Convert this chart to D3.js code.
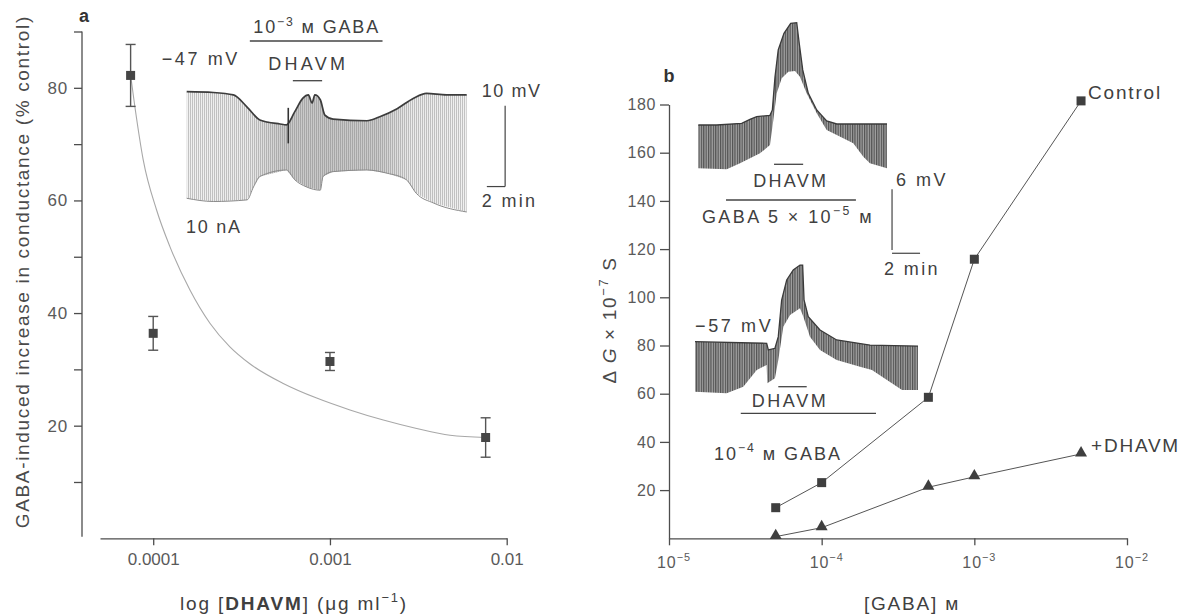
<!DOCTYPE html>
<html><head><meta charset="utf-8">
<script src="https://cdn.jsdelivr.net/npm/d3@7"></script>
<style>
body{margin:0;background:#fff}
svg{display:block}
text{font-family:"Liberation Sans",Arial,Helvetica,sans-serif}
</style>
</head><body>
<svg id="c" width="1184" height="614"></svg>
<script>
// ---------------- DATA ----------------
// Panel a: dose-response
const aDose = [7.45e-5, 1e-4, 1e-3, 7.6e-3];
const aResp = [82.2, 36.4, 31.4, 17.9];
const aErr  = [5.5, 3.0, 1.6, 3.5];
const aCurveDose = [7.45e-5, 7.88e-5, 8.78e-5, 1.045e-4, 1.243e-4, 1.614e-4, 2.094e-4, 2.716e-4, 3.52e-4, 5.44e-4, 8.41e-4, 1.298e-3, 2.004e-3, 3.095e-3, 4.78e-3, 7.6e-3];
const aCurveResp = [82.2, 76.6, 67.2, 58.3, 51.8, 44.1, 38.2, 34.0, 31.0, 27.5, 24.9, 22.8, 21.0, 19.5, 18.3, 17.9];
const aYTicks = [10, 20, 30, 40, 50, 60, 70, 80, 90];
const aYLabels = [20, 40, 60, 80];
const aXTicks = [1e-4, 1e-3, 1e-2];
const aXLabels = ["0.0001", "0.001", "0.01"];

// Panel b: conductance vs GABA
const gabaConc = [5e-5, 1e-4, 5e-4, 1e-3, 5e-3];
const controlG = [12.7, 23.1, 58.5, 115.8, 181.5];
const dhavmG   = [0.7, 4.4, 21.2, 25.5, 35.0];
const bYTicks = [20, 40, 60, 80, 100, 120, 140, 160, 180];
const bXTicks = [1e-5, 1e-4, 1e-3, 1e-2];
const bXExp = ["−5", "−4", "−3", "−2"];

// Inset a trace (time in min, potential in mV)
const insA_topT = [0, 2.9, 5.1, 6.6, 8.0, 10.2, 10.9, 11.8, 12.7, 13.3, 13.7, 14.0, 14.6, 15.1, 16.0, 19.7, 21.1, 23.0, 24.8, 26.2, 28.4, 30.6];
const insA_topV = [-47, -47.1, -47.4, -48.9, -50.5, -51.0, -51.1, -49.5, -47.8, -47.4, -48.4, -47.4, -48.0, -49.9, -50.4, -50.6, -50.1, -49.1, -47.8, -47.2, -47.4, -47.4];
const insA_botT = [0, 2.9, 6.6, 7.3, 8.0, 10.9, 11.8, 13.1, 14.6, 14.9, 16.0, 19.7, 21.9, 24.0, 25.1, 27.0, 30.6];
const insA_botV = [-60.2, -60.6, -60.4, -58.8, -57.5, -56.7, -57.9, -58.8, -59.2, -57.5, -56.9, -56.7, -57.1, -57.9, -59.6, -60.8, -61.9];
const insA_gaba = [6.9, 21.4];
const insA_dhavm = [11.6, 14.8];

// Inset b upper trace (time in min, relative mV)
const insB1_topT = [0, 1.31, 3.1, 3.69, 4.17, 5.12, 5.29, 5.48, 5.71, 6.12, 6.6, 7.03, 7.21, 7.46, 7.86, 8.46, 9.17, 9.89, 13.48];
const insB1_topV = [0, 0, 0.17, 0.56, 0.82, 0.96, 1.49, 4.78, 7.43, 9.08, 10.07, 10.13, 8.09, 5.45, 3.14, 1.49, 0.4, 0.1, 0.1];
const insB1_botT = [0, 2.03, 2.98, 4.41, 5.12, 5.36, 5.6, 5.96, 6.43, 6.91, 7.26, 7.74, 8.46, 9.17, 9.89, 11.07, 11.79, 12.26, 13.48];
const insB1_botV = [-4.29, -4.39, -3.79, -2.8, -1.98, 0.5, 3.14, 4.62, 5.28, 5.35, 4.78, 3.14, 1.16, -0.5, -0.99, -1.81, -3.14, -3.79, -4.29];
const insB1_dhavm = [5.41, 7.49];
const insB1_gaba = [1.98, 11.26];

// Inset b lower trace (time in min, mV)
const insB2_topT = [0, 5.12, 5.24, 5.71, 5.95, 6.19, 6.55, 7.02, 7.5, 7.69, 7.79, 8.09, 8.93, 10.12, 12.5, 15.93];
const insB2_topV = [-57, -57.16, -57.82, -57.65, -56.5, -52.87, -50.89, -49.9, -49.41, -49.41, -52.87, -54.52, -55.84, -56.83, -57.33, -57.43];
const insB2_botT = [0, 2.26, 3.45, 4.41, 5.12, 5.16, 5.71, 5.95, 6.31, 6.79, 7.5, 7.74, 8.21, 8.93, 10.12, 11.79, 12.64, 14.79, 15.93];
const insB2_botV = [-61.95, -62.11, -61.46, -59.8, -59.31, -61.12, -60.62, -58.81, -55.51, -54.36, -53.69, -54.52, -56.5, -57.82, -58.81, -59.48, -59.8, -61.78, -61.78];
const insB2_dhavm = [5.95, 7.98];
const insB2_gaba = [3.27, 12.93];

// ---------------- DRAW ----------------
const svg = d3.select("#c");
const TXT = "#404040";

function addText(g, parts, x, y, o = {}) {
  const size = o.size || 18;
  const t = g.append("text").attr("x", x).attr("y", y).attr("font-size", size)
    .attr("fill", o.fill || TXT).attr("text-anchor", o.anchor || "start");
  if (o.rotate) t.attr("transform", `rotate(-90,${x},${y})`);
  if (o.weight) t.attr("font-weight", o.weight);
  let shift = 0, n = 0;
  const arr = typeof parts === "string" ? [{ s: parts }] : parts;
  for (const p of arr) {
    const sp = t.append("tspan").text(p.s);
    n += p.s.length;
    if (p.b) sp.attr("font-weight", "bold");
    if (p.i) sp.attr("font-style", "italic");
    if (p.sup) { const d = -size * 0.42; sp.attr("font-size", size * 0.68).attr("dy", d - shift); shift = d; }
    else if (shift !== 0) { sp.attr("dy", -shift); shift = 0; }
  }
  if (o.width) {
    const L = t.node().getComputedTextLength();
    t.attr("letter-spacing", ((o.width - L) / n).toFixed(2));
  }
  return t;
}

const defs = svg.append("defs");
const pA = defs.append("pattern").attr("id", "hatchA").attr("width", 2).attr("height", 4).attr("patternUnits", "userSpaceOnUse");
pA.append("rect").attr("width", 2).attr("height", 4).attr("fill", "#f1f1f1");
pA.append("line").attr("x1", 0.5).attr("x2", 0.5).attr("y1", 0).attr("y2", 4).attr("stroke", "#bcbcbc").attr("stroke-width", 0.9);
const pB = defs.append("pattern").attr("id", "hatchB").attr("width", 2.4).attr("height", 4).attr("patternUnits", "userSpaceOnUse");
pB.append("rect").attr("width", 2.4).attr("height", 4).attr("fill", "#a3a3a3");
pB.append("line").attr("x1", 0.6).attr("x2", 0.6).attr("y1", 0).attr("y2", 4).attr("stroke", "#4a4a4a").attr("stroke-width", 1.1);
const gr = defs.append("linearGradient").attr("id", "gradA").attr("x1", 0).attr("x2", 1).attr("y1", 0).attr("y2", 0);
[[0, 0], [0.22, 0.05], [0.35, 0.28], [0.5, 0.3], [0.68, 0.28], [0.8, 0.05], [1, 0]].forEach(([o, a]) =>
  gr.append("stop").attr("offset", o).attr("stop-color", "#666").attr("stop-opacity", a));

function styleAxis(g, size) {
  g.select(".domain").attr("stroke", "#4d4d4d").attr("stroke-width", 1.3);
  g.selectAll(".tick line").attr("stroke", "#4d4d4d").attr("stroke-width", 1.3);
  g.selectAll(".tick text").attr("fill", "#5a5a5a").attr("font-size", size)
    .attr("font-family", '"Liberation Sans",Arial,sans-serif');
}

// ===== Panel a =====
const ya = d3.scaleLinear().domain([0, 90]).range([538.3, 31.5]);
const xa = d3.scaleLog().domain([5e-5, 1e-2]).range([100, 506.7]);
const gA = svg.append("g");

const yAxA = gA.append("g").attr("transform", "translate(82,0)")
  .call(d3.axisLeft(ya).tickValues(aYTicks).tickSize(8).tickSizeOuter(0).tickPadding(6)
    .tickFormat(d => aYLabels.includes(d) ? d : ""));
yAxA.select(".domain").attr("d", `M0,${ya(0) - 1.5}V${ya(90)}`);
styleAxis(yAxA, 17);
yAxA.selectAll(".tick text").attr("letter-spacing", 0.8);

const xAxA = gA.append("g").attr("transform", `translate(0,${ya(0)})`)
  .call(d3.axisBottom(xa).tickValues(aXTicks).tickSize(7).tickSizeOuter(0).tickPadding(8)
    .tickFormat((d, i) => aXLabels[i]));
styleAxis(xAxA, 17);

// fitted curve
gA.append("path").datum(aCurveDose.map((d, i) => [d, aCurveResp[i]]))
  .attr("fill", "none").attr("stroke", "#a8a8a8").attr("stroke-width", 1.1)
  .attr("d", d3.line().x(d => xa(d[0])).y(d => ya(d[1])).curve(d3.curveMonotoneX));

// error bars + points
aDose.forEach((d, i) => {
  const x = xa(d), y1 = ya(aResp[i] + aErr[i]), y2 = ya(aResp[i] - aErr[i]);
  gA.append("line").attr("x1", x).attr("x2", x).attr("y1", y1).attr("y2", y2).attr("stroke", "#555").attr("stroke-width", 1.4);
  [y1, y2].forEach(yy => gA.append("line").attr("x1", x - 5).attr("x2", x + 5).attr("y1", yy).attr("y2", yy).attr("stroke", "#555").attr("stroke-width", 1.4));
  gA.append("rect").attr("x", x - 4.5).attr("y", ya(aResp[i]) - 4.5).attr("width", 9).attr("height", 9).attr("fill", "#454545");
});

addText(gA, "GABA-induced increase in conductance (% control)", 29, 271.7, { rotate: true, anchor: "middle", size: 19, width: 513, fill: "#4a4a4a" });
addText(gA, [{ s: "log [" }, { s: "DHAVM", b: true }, { s: "] (μg ml" }, { s: "−1", sup: true }, { s: ")" }], 294, 610, { anchor: "middle", size: 19, width: 228, fill: "#404040" });
addText(gA, "a", 84, 22, { anchor: "middle", size: 18, weight: "bold", fill: "#333" });

// Inset a
const xIA = d3.scaleLinear().domain([0, 30.6]).range([186.7, 466.7]);
const yIA = d3.scaleLinear().domain([-47, -62]).range([91.7, 212.8]);
const polyA = insA_topT.map((t, i) => [xIA(t), yIA(insA_topV[i])])
  .concat(insA_botT.map((t, i) => [xIA(t), yIA(insA_botV[i])]).reverse());
gA.append("path").attr("d", d3.line()(polyA) + "Z").attr("fill", "url(#hatchA)");
gA.append("path").attr("d", d3.line()(polyA) + "Z").attr("fill", "url(#gradA)");
gA.append("path").attr("fill", "none").attr("stroke", "#3c3c3c").attr("stroke-width", 1.7)
  .attr("d", d3.line().curve(d3.curveMonotoneX)(insA_topT.map((t, i) => [xIA(t), yIA(insA_topV[i])])));
gA.append("path").attr("fill", "none").attr("stroke", "#8a8a8a").attr("stroke-width", 1)
  .attr("d", d3.line().curve(d3.curveMonotoneX)(insA_botT.map((t, i) => [xIA(t), yIA(insA_botV[i])])));
// artifact spike
gA.append("line").attr("x1", xIA(11.1)).attr("x2", xIA(11.1)).attr("y1", yIA(-49.0)).attr("y2", yIA(-53.4)).attr("stroke", "#333").attr("stroke-width", 1.6);
// application bars
gA.append("line").attr("x1", xIA(insA_gaba[0])).attr("x2", xIA(insA_gaba[1])).attr("y1", 41).attr("y2", 41).attr("stroke", "#444").attr("stroke-width", 1.3);
gA.append("line").attr("x1", xIA(insA_dhavm[0])).attr("x2", xIA(insA_dhavm[1])).attr("y1", 80.7).attr("y2", 80.7).attr("stroke", "#444").attr("stroke-width", 1.3);
// scale bars (10 mV, 2 min)
gA.append("line").attr("x1", xIA(34.8)).attr("x2", xIA(34.8)).attr("y1", yIA(-48.75)).attr("y2", yIA(-58.75)).attr("stroke", "#444").attr("stroke-width", 1.2);
gA.append("line").attr("x1", xIA(32.8)).attr("x2", xIA(34.8)).attr("y1", yIA(-58.75)).attr("y2", yIA(-58.75)).attr("stroke", "#444").attr("stroke-width", 1.2);
addText(gA, [{ s: "10" }, { s: "−3", sup: true }, { s: " м GABA" }], 316.7, 33.3, { anchor: "middle", size: 18, width: 126.7 });
addText(gA, "DHAVM", 308.3, 70, { anchor: "middle", size: 18, width: 80 });
addText(gA, "−47 mV", 161.7, 65, { size: 18, width: 78.3 });
addText(gA, "10 mV", 481.7, 97, { size: 18, width: 60 });
addText(gA, "2 min", 481.7, 206.7, { size: 18, width: 55.7 });
addText(gA, "10 nA", 186, 233.3, { size: 18, width: 55.7 });

// ===== Panel b =====
const yb = d3.scaleLinear().domain([0, 180]).range([538.3, 104.5]);
const xb = d3.scaleLog().domain([1e-5, 1e-2]).range([669, 1127]);
const gB = svg.append("g");

const yAxB = gB.append("g").attr("transform", "translate(669,0)")
  .call(d3.axisLeft(yb).tickValues(bYTicks).tickSize(9).tickSizeOuter(0).tickPadding(4));
styleAxis(yAxB, 16);
yAxB.selectAll(".tick text").attr("letter-spacing", 0.6);

const xAxB = gB.append("g").attr("transform", `translate(0,${yb(0)})`)
  .call(d3.axisBottom(xb).tickValues(bXTicks).tickSize(7).tickSizeOuter(0).tickFormat(""));
styleAxis(xAxB, 16);
bXTicks.forEach((v, i) => addText(gB, [{ s: "10" }, { s: bXExp[i], sup: true }], xb(v) - 12, 568, { size: 16, width: 34, fill: "#5a5a5a" }));

const lineB = d3.line().x(d => xb(d[0])).y(d => yb(d[1]));
gB.append("path").datum(gabaConc.map((c, i) => [c, controlG[i]])).attr("fill", "none").attr("stroke", "#555").attr("stroke-width", 1).attr("d", lineB);
gB.append("path").datum(gabaConc.map((c, i) => [c, dhavmG[i]])).attr("fill", "none").attr("stroke", "#555").attr("stroke-width", 1).attr("d", lineB);
gabaConc.forEach((c, i) => {
  gB.append("rect").attr("x", xb(c) - 4.5).attr("y", yb(controlG[i]) - 4.5).attr("width", 9).attr("height", 9).attr("fill", "#3f3f3f");
  gB.append("path").attr("d", d3.symbol(d3.symbolTriangle, 62)()).attr("transform", `translate(${xb(c)},${yb(dhavmG[i]) - 1})`).attr("fill", "#3f3f3f");
});
addText(gB, "Control", 1088, 99, { size: 19, width: 74 });
addText(gB, "+DHAVM", 1091, 452, { size: 19, width: 89 });

addText(gB, [{ s: "Δ " }, { s: "G", i: true }, { s: " × 10" }, { s: "−7", sup: true }, { s: " S" }], 616, 320, { rotate: true, anchor: "middle", size: 19, width: 127, fill: "#4a4a4a" });
addText(gB, "[GABA] м", 912, 610, { anchor: "middle", size: 19, width: 96 });
addText(gB, "b", 669, 82, { anchor: "middle", size: 18, weight: "bold", fill: "#333" });

// Inset b upper
const xIB1 = d3.scaleLinear().domain([0, 13.48]).range([698.3, 887]);
const yIB1 = d3.scaleLinear().domain([0, -10]).range([125, 226]);
const polyB1 = insB1_topT.map((t, i) => [xIB1(t), yIB1(insB1_topV[i])])
  .concat(insB1_botT.map((t, i) => [xIB1(t), yIB1(insB1_botV[i])]).reverse());
gB.append("path").attr("d", d3.line()(polyB1) + "Z").attr("fill", "url(#hatchB)");
gB.append("path").attr("fill", "none").attr("stroke", "#3a3a3a").attr("stroke-width", 1.3)
  .attr("d", d3.line()(insB1_topT.map((t, i) => [xIB1(t), yIB1(insB1_topV[i])])));
gB.append("line").attr("x1", xIB1(insB1_dhavm[0])).attr("x2", xIB1(insB1_dhavm[1])).attr("y1", 164.3).attr("y2", 164.3).attr("stroke", "#444").attr("stroke-width", 1.3);
gB.append("line").attr("x1", xIB1(insB1_gaba[0])).attr("x2", xIB1(insB1_gaba[1])).attr("y1", 200).attr("y2", 200).attr("stroke", "#444").attr("stroke-width", 1.3);
// scale bars 6 mV / 2 min
gB.append("line").attr("x1", xIB1(13.84)).attr("x2", xIB1(13.84)).attr("y1", yIB1(-6.37)).attr("y2", yIB1(-12.38)).attr("stroke", "#444").attr("stroke-width", 1.2);
gB.append("line").attr("x1", xIB1(13.84)).attr("x2", xIB1(15.84)).attr("y1", yIB1(-12.7)).attr("y2", yIB1(-12.7)).attr("stroke", "#444").attr("stroke-width", 1.2);
addText(gB, "DHAVM", 790.8, 186.7, { anchor: "middle", size: 18, width: 75 });
addText(gB, [{ s: "GABA 5 × 10" }, { s: "−5", sup: true }, { s: " м" }], 788, 223, { anchor: "middle", size: 18, width: 172 });
addText(gB, "6 mV", 896, 186, { size: 18, width: 52 });
addText(gB, "2 min", 884, 275, { size: 18, width: 56 });

// Inset b lower
const xIB2 = d3.scaleLinear().domain([0, 15.93]).range([695, 918]);
const yIB2 = d3.scaleLinear().domain([-57, -67]).range([341.7, 442.7]);
const polyB2 = insB2_topT.map((t, i) => [xIB2(t), yIB2(insB2_topV[i])])
  .concat(insB2_botT.map((t, i) => [xIB2(t), yIB2(insB2_botV[i])]).reverse());
gB.append("path").attr("d", d3.line()(polyB2) + "Z").attr("fill", "url(#hatchB)");
gB.append("path").attr("fill", "none").attr("stroke", "#3a3a3a").attr("stroke-width", 1.3)
  .attr("d", d3.line()(insB2_topT.map((t, i) => [xIB2(t), yIB2(insB2_topV[i])])));
gB.append("line").attr("x1", xIB2(insB2_dhavm[0])).attr("x2", xIB2(insB2_dhavm[1])).attr("y1", 386.7).attr("y2", 386.7).attr("stroke", "#444").attr("stroke-width", 1.3);
gB.append("line").attr("x1", xIB2(insB2_gaba[0])).attr("x2", xIB2(insB2_gaba[1])).attr("y1", 413.3).attr("y2", 413.3).attr("stroke", "#444").attr("stroke-width", 1.3);
addText(gB, "−57 mV", 695, 331.7, { size: 18, width: 78.3 });
addText(gB, "DHAVM", 790, 406.7, { anchor: "middle", size: 18, width: 76.6 });
addText(gB, [{ s: "10" }, { s: "−4", sup: true }, { s: " м GABA" }], 778, 460, { anchor: "middle", size: 18, width: 128 });
</script>
</body></html>
